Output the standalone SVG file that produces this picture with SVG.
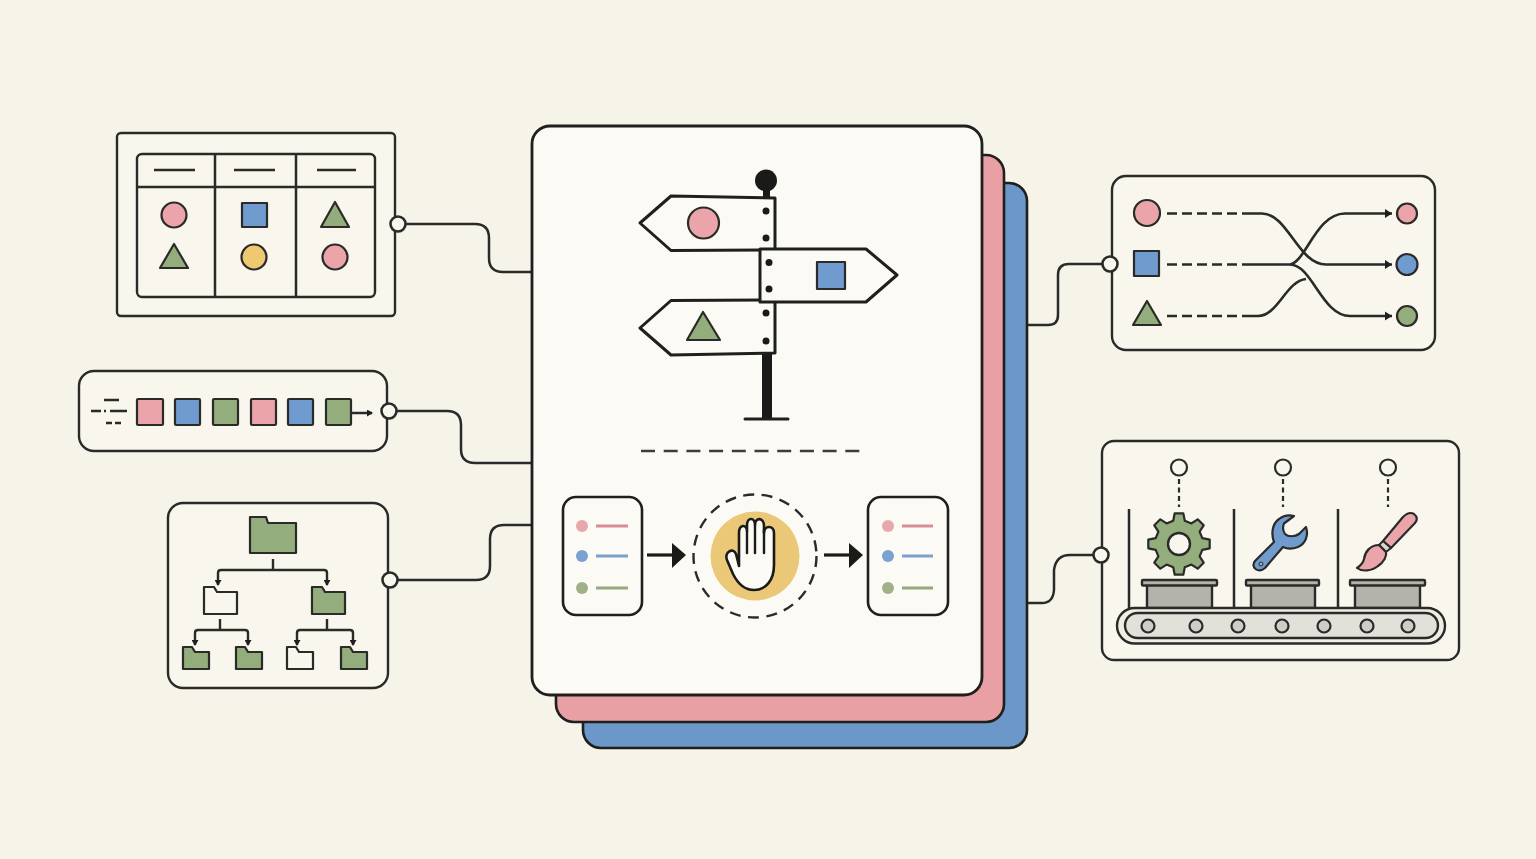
<svg xmlns="http://www.w3.org/2000/svg" width="1536" height="859" viewBox="0 0 1536 859">
  <style>
    .sign { fill: #fbfaf5; stroke: #1f1f1d; stroke-width: 3; stroke-linejoin: round; }
    .panel { fill: #f8f6ed; stroke: #2a2a28; stroke-width: 2.4; }
    .s { stroke: #2a2a28; stroke-width: 2.2; stroke-linejoin: round; }
    .pink { fill: #eba5aa; }
    .blue { fill: #6f9bce; }
    .green { fill: #93ad7c; }
    .yellow { fill: #efc96f; }
    .blank { fill: #f8f6ed; }
    .wire { stroke: #2a2a28; stroke-width: 2.5; fill: none; }
    .port { fill: #f8f6ed; stroke: #2a2a28; stroke-width: 2.6; }
    .dash { stroke: #2a2a28; stroke-width: 2.6; fill: none; stroke-dasharray: 10 5; }
    .flow { stroke: #2a2a28; stroke-width: 2.6; fill: none; }
    .tree { stroke: #2a2a28; stroke-width: 2.4; fill: none; }
    .tray { fill: #b3b2ab; stroke: #2a2a28; stroke-width: 2.4; }
    .roller { fill: #cfcec6; stroke: #2a2a28; stroke-width: 2.2; }
  </style>
  <defs>
    <marker id="tip" markerUnits="userSpaceOnUse" markerWidth="9" markerHeight="10" refX="7" refY="5" orient="auto">
      <path d="M0 0.500L7 5L0 9.500Z" fill="#1f1f1d"/>
    </marker>
    <marker id="tipSmall" markerUnits="userSpaceOnUse" markerWidth="7" markerHeight="7" refX="5" refY="3.500" orient="auto">
      <path d="M0 0L6 3.500L0 7Z" fill="#1f1f1d"/>
    </marker>
    <path id="folder" d="M0 0H10L13 5H33V27H0Z"/>
    <path id="folderSmall" d="M0 0H9L12 5H26V22H0Z"/>
  </defs>

  <rect width="1536" height="859" fill="#f6f3e9"/>

  <!-- connectors between the stacked card and the side panels -->
  <g id="connectors">
    <path class="wire" d="M398 224H475Q489 224 489 238V258Q489 272 503 272H532"/>
    <path class="wire" d="M389 411H447Q461 411 461 425V449Q461 463 475 463H532"/>
    <path class="wire" d="M390 580H476Q490 580 490 566V539Q490 525 504 525H532"/>
    <path class="wire" d="M1027 325H1048Q1058 325 1058 315V275Q1058 264 1069 264H1110"/>
    <path class="wire" d="M1027 603H1042Q1053 603 1054 590V570Q1056 555 1070 555H1101"/>
  </g>

  <!-- stacked cards -->
  <g id="card-stack">
    <rect x="583" y="183" width="444" height="565" rx="18" fill="#6b98c8" stroke="#1f1f1d" stroke-width="2.600"/>
    <rect x="556" y="155" width="448" height="567" rx="18" fill="#e9a0a4" stroke="#1f1f1d" stroke-width="2.600"/>
    <rect x="532" y="126" width="450" height="569" rx="18" fill="#fbfaf5" stroke="#1f1f1d" stroke-width="2.800"/>
  </g>

  <g id="signpost">
    <path d="M763 188H770V200H772V419H762V200H763Z" fill="#1a1a18"/>
    <circle cx="766" cy="180.500" r="11" fill="#1a1a18"/>
    <path d="M745 419H788" stroke="#1f1f1d" stroke-width="3" stroke-linecap="round"/>
    <path class="sign" d="M640 223L671 196L775 198V250L671 250.500Z"/>
    <path class="sign" d="M640 328L671 300.500L775 300V353L671 355Z"/>
    <path class="sign" d="M760 249H866L897 275L866 302H760Z"/>
    <g fill="#1a1a18">
      <circle cx="766" cy="211" r="3.500"/>
      <circle cx="766" cy="238" r="3.500"/>
      <circle cx="769" cy="262.500" r="3.500"/>
      <circle cx="769" cy="289" r="3.500"/>
      <circle cx="766" cy="313" r="3.500"/>
      <circle cx="766" cy="341" r="3.500"/>
    </g>
    <circle class="s pink" cx="703.500" cy="223" r="15.500"/>
    <rect class="s blue" x="817" y="262" width="28" height="27"/>
    <path class="s green" d="M703 312L720 340H687Z"/>
  </g>

  <path id="separator" d="M641 451H860" stroke="#3c3c3a" stroke-width="2.400" fill="none" stroke-dasharray="14 8.700"/>

  <g id="list-before">
    <rect x="563" y="497" width="79" height="118" rx="13" fill="#fbfaf5" stroke="#1f1f1d" stroke-width="2.600"/>
    <circle cx="582" cy="526" r="6" fill="#e8a7ab"/>
    <circle cx="582" cy="556" r="6" fill="#7aa1cf"/>
    <circle cx="582" cy="588" r="6" fill="#a0b088"/>
    <path d="M596 526H628" stroke="#d98d93" stroke-width="3"/>
    <path d="M596 556H628" stroke="#7aa1cf" stroke-width="3"/>
    <path d="M596 588H628" stroke="#96a87e" stroke-width="3"/>
  </g>

  <g id="flow-arrows">
    <path d="M647 555H674" stroke="#1a1a18" stroke-width="3.200"/>
    <path d="M672 543L686 555L672 568Z" fill="#1a1a18"/>
    <path d="M824 555H852" stroke="#1a1a18" stroke-width="3.200"/>
    <path d="M849 543L863 555L849 568Z" fill="#1a1a18"/>
  </g>

  <g id="stop-gate">
    <circle cx="755" cy="556" r="61.500" fill="none" stroke="#2a2a28" stroke-width="2.400" stroke-dasharray="11 7.500"/>
    <circle cx="755" cy="556" r="44.500" fill="#ebc877"/>
    <path d="M739 566V533C739 524 747 524 747 531V525C747 517 755 517 755 525C755 517 764 517 764 526V533C764 525 774 525 774 533V565C774 580 766 590 754 590C744 590 738 584 733 574L727 560C724 552 733 547 736 554Z" fill="#fbfaf5" stroke="#1a1a18" stroke-width="2.600" stroke-linejoin="round"/>
    <path d="M747 531V553M755 525V553M764 530V553" stroke="#1a1a18" stroke-width="2.400" stroke-linecap="round" fill="none"/>
  </g>

  <g id="list-after">
    <rect x="868" y="497" width="80" height="118" rx="13" fill="#fbfaf5" stroke="#1f1f1d" stroke-width="2.600"/>
    <circle cx="888" cy="526" r="6" fill="#e8a7ab"/>
    <circle cx="888" cy="556" r="6" fill="#7aa1cf"/>
    <circle cx="888" cy="588" r="6" fill="#a0b088"/>
    <path d="M902 526H933" stroke="#d98d93" stroke-width="3"/>
    <path d="M902 556H933" stroke="#7aa1cf" stroke-width="3"/>
    <path d="M902 588H933" stroke="#96a87e" stroke-width="3"/>
  </g>

  <!-- board with three columns -->
  <g id="board">
    <rect class="panel" x="117" y="133" width="278" height="183" rx="4"/>
    <rect class="panel" x="137" y="154" width="238" height="143" rx="5"/>
    <path class="wire" d="M137 187H375M215 154V297M296 154V297"/>
    <path class="wire" d="M154 170H195M234 170H275M317 170H356"/>
    <circle class="s pink" cx="174" cy="215" r="12.500"/>
    <rect class="s blue" x="242" y="203" width="25" height="24"/>
    <path class="s green" d="M335 202L349 227H321Z"/>
    <path class="s green" d="M174 244L188 268H160Z"/>
    <circle class="s yellow" cx="254" cy="257" r="12.500"/>
    <circle class="s pink" cx="335" cy="257" r="12.500"/>
    <circle class="port" cx="398" cy="224" r="7.500"/>
  </g>

  <!-- row of tasks in a queue -->
  <g id="queue">
    <rect class="panel" x="79" y="371" width="308" height="80" rx="15"/>
    <path class="wire" d="M104 400H119M91 411H101M104 411H106M110 411H127M106 423H112M115 423H121"/>
    <rect class="s pink" x="137" y="399" width="26" height="26" rx="1"/>
    <rect class="s blue" x="175" y="399" width="25" height="26" rx="1"/>
    <rect class="s green" x="213" y="399" width="25" height="26" rx="1"/>
    <rect class="s pink" x="251" y="399" width="25" height="26" rx="1"/>
    <rect class="s blue" x="288" y="399" width="25" height="26" rx="1"/>
    <rect class="s green" x="326" y="399" width="25" height="26" rx="1"/>
    <path class="wire" d="M351 413H372" marker-end="url(#tipSmall)"/>
    <circle class="port" cx="389" cy="411" r="7.500"/>
  </g>

  <!-- folder tree -->
  <g id="folders">
    <rect class="panel" x="168" y="503" width="220" height="185" rx="15"/>
    <path class="s green" d="M250 517H266L268 523H296V553H250Z"/>
    <path class="tree" d="M273 559V570"/>
    <path class="tree" d="M273 570H221Q218 570 218 573V585" marker-end="url(#tipSmall)"/>
    <path class="tree" d="M273 570H324Q327 570 327 573V585" marker-end="url(#tipSmall)"/>
    <use href="#folder" class="s blank" x="204" y="587"/>
    <use href="#folder" class="s green" x="312" y="587"/>
    <path class="tree" d="M220 619V630"/>
    <path class="tree" d="M220 630H198Q195 630 195 633V645" marker-end="url(#tipSmall)"/>
    <path class="tree" d="M220 630H245Q248 630 248 633V645" marker-end="url(#tipSmall)"/>
    <path class="tree" d="M327 619V630"/>
    <path class="tree" d="M327 630H300Q297 630 297 633V645" marker-end="url(#tipSmall)"/>
    <path class="tree" d="M327 630H350Q353 630 353 633V645" marker-end="url(#tipSmall)"/>
    <use href="#folderSmall" class="s green" x="183" y="647"/>
    <use href="#folderSmall" class="s green" x="236" y="647"/>
    <use href="#folderSmall" class="s blank" x="287" y="647"/>
    <use href="#folderSmall" class="s green" x="341" y="647"/>
    <circle class="port" cx="390" cy="580" r="7.500"/>
  </g>

  <!-- routing of shapes to matching outputs -->
  <g id="router">
    <rect class="panel" x="1112" y="176" width="323" height="174" rx="14"/>
    <circle class="s pink" cx="1147" cy="213" r="13"/>
    <rect class="s blue" x="1134" y="251" width="25" height="25"/>
    <path class="s green" d="M1147 301L1161 325H1133Z"/>
    <path class="dash" d="M1167 213.500H1247M1167 264.500H1247M1167 316H1247"/>
    <path class="flow" d="M1247 213.500H1262C1288 213.500 1298 264.500 1326 264.500H1392" marker-end="url(#tip)"/>
    <path class="flow" d="M1247 264.500H1290C1312 264.500 1322 316 1350 316H1392" marker-end="url(#tip)"/>
    <path class="flow" d="M1290 264.500C1306 262 1316 213.500 1345 213.500H1392" marker-end="url(#tip)"/>
    <path class="flow" d="M1247 316H1258C1278 316 1286 281 1306 279"/>
    <circle class="s pink" cx="1407" cy="213.500" r="10"/>
    <circle class="s blue" cx="1407" cy="264.500" r="10.500"/>
    <circle class="s green" cx="1407" cy="316" r="10"/>
    <circle class="port" cx="1110" cy="264" r="7.500"/>
  </g>

  <!-- assembly line with three stations -->
  <g id="assembly">
    <rect class="panel" x="1102" y="441" width="357" height="219" rx="12"/>
    <g fill="#f8f6ed" stroke="#2a2a28" stroke-width="2.200">
      <circle cx="1179" cy="467.500" r="8"/>
      <circle cx="1283" cy="467.500" r="8"/>
      <circle cx="1388" cy="467.500" r="8"/>
    </g>
    <path d="M1179 479V507M1283 479V507M1388 479V507" stroke="#2a2a28" stroke-width="2.200" stroke-dasharray="5 3.500" fill="none"/>
    <path class="wire" d="M1129 509V608M1234 509V608M1338 509V608"/>
    <g transform="translate(1179 544)">
      <path class="s green" d="M23.300-5.800L30.700-4.300V4.300L23.300 5.800L20.600 12.400L24.700 18.700L18.700 24.700L12.400 20.600L5.800 23.300L4.300 30.700H-4.300L-5.800 23.300L-12.400 20.600L-18.700 24.700L-24.700 18.700L-20.600 12.400L-23.300 5.800L-30.700 4.300V-4.300L-23.300-5.800L-20.600-12.400L-24.700-18.700L-18.700-24.700L-12.400-20.600L-5.800-23.300L-4.300-30.700H4.300L5.800-23.300L12.400-20.600L18.700-24.700L24.700-18.700L20.600-12.400Z"/>
      <circle r="11" fill="#f8f6ed" stroke="#2a2a28" stroke-width="2.400"/>
    </g>
    <path class="s blue" d="M1255 561L1274 542C1271 534 1272 524 1279 519C1284 515 1290 515 1294 516L1284 523.500C1282.500 527 1283 531 1285 534C1288 537 1295 537 1299 534L1306 527C1309 536 1305 544 1298 547C1293 549 1287 549 1283 547L1265 568C1258 574 1250 567 1255 561Z"/>
    <circle cx="1261" cy="564" r="2" fill="#8fb0d6" stroke="#2a2a28" stroke-width="1"/>
    <path class="s pink" d="M1403 517Q1409 511 1414 514Q1419 518 1415 523L1391 548L1383 541Z"/>
    <path d="M1383 541L1391 548L1386 552L1379 545Z" fill="#d9d7cf" stroke="#2a2a28" stroke-width="2" stroke-linejoin="round"/>
    <path class="s pink" d="M1379 545C1370 545 1365 552 1364 559C1363 564 1360 566 1357 568C1362 572 1372 571 1378 566C1384 562 1387 556 1386 552Z"/>
    <rect class="tray" x="1147" y="584" width="65" height="24"/>
    <rect class="tray" x="1142" y="580" width="75" height="5.500" rx="1"/>
    <rect class="tray" x="1251" y="584" width="64" height="24"/>
    <rect class="tray" x="1246" y="580" width="73" height="5.500" rx="1"/>
    <rect class="tray" x="1355" y="584" width="65" height="24"/>
    <rect class="tray" x="1350" y="580" width="75" height="5.500" rx="1"/>
    <rect x="1117" y="608" width="328" height="35.500" rx="17.700" fill="#efeee6" stroke="#2a2a28" stroke-width="2.400"/>
    <rect x="1125" y="613" width="313" height="25" rx="12.500" fill="#e2e1d9" stroke="#2a2a28" stroke-width="2.400"/>
    <circle class="roller" cx="1148" cy="626" r="6.500"/>
    <circle class="roller" cx="1196" cy="626" r="6.500"/>
    <circle class="roller" cx="1238" cy="626" r="6.500"/>
    <circle class="roller" cx="1282" cy="626" r="6.500"/>
    <circle class="roller" cx="1324" cy="626" r="6.500"/>
    <circle class="roller" cx="1367" cy="626" r="6.500"/>
    <circle class="roller" cx="1408" cy="626" r="6.500"/>
    <circle class="port" cx="1101" cy="555" r="7.500"/>
  </g>
</svg>
